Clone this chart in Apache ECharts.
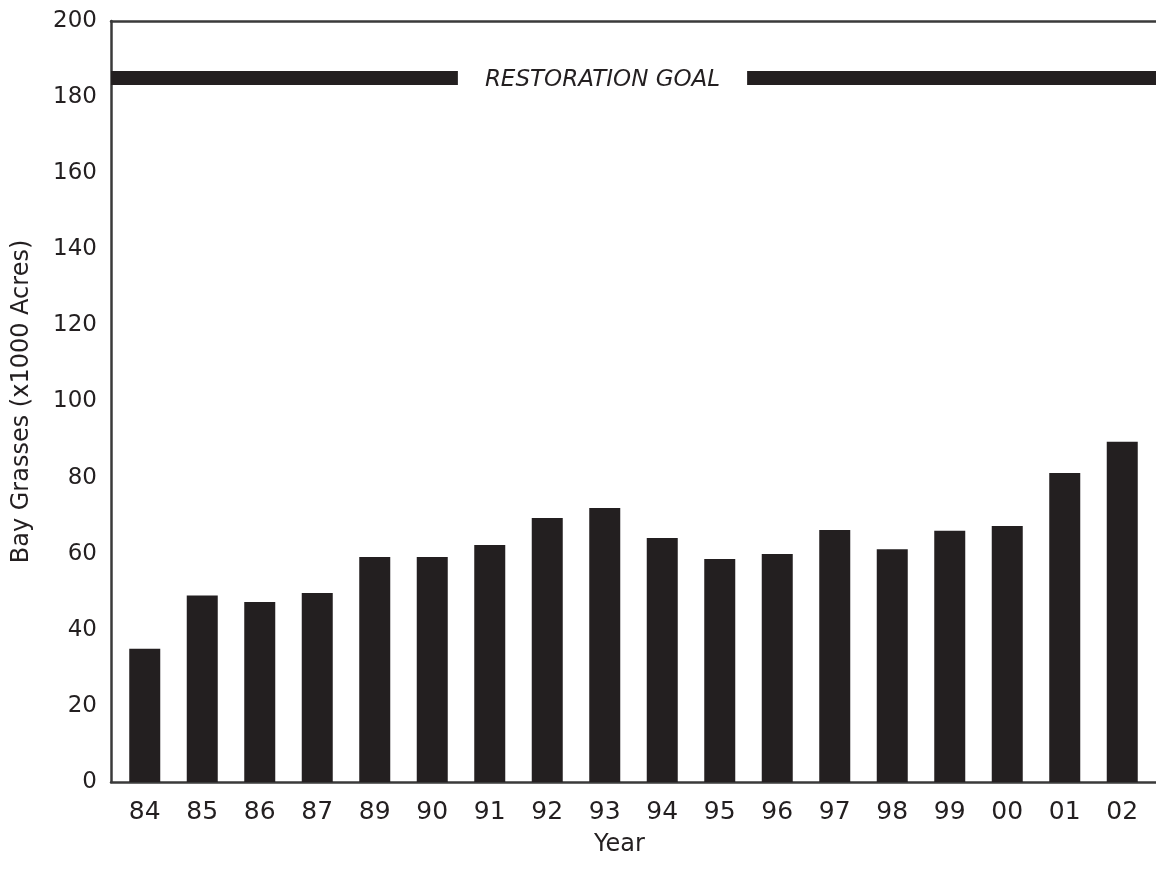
<!DOCTYPE html>
<html>
<head>
<meta charset="utf-8">
<script src="https://cdn.jsdelivr.net/npm/echarts@6/dist/echarts.min.js"></script>
<style>
html,body{margin:0;padding:0;background:#fff;}
#chart{width:1156px;height:874px;}
</style>
</head>
<body>
<div id="chart"></div>
<script>
const years = ['84','85','86','87','89','90','91','92','93','94','95','96','97','98','99','00','01','02'];
const acres = [35, 49, 47.3, 49.7, 59.1, 59.1, 62.3, 69.4, 72, 64.1, 58.6, 59.9, 66.2, 61.2, 66, 67.3, 81.2, 89.4];
const goal = 185;
const goalLabel = 'RESTORATION GOAL';
const yMin = 0, yMax = 200, yStep = 20;
const yTitle = 'Bay Grasses (x1000 Acres)';
const xTitle = 'Year';

const ink = '#231f20';
const axisCol = '#3a3a3a';
const font = 'DejaVu Sans';

const chart = echarts.init(document.getElementById('chart'), null, {renderer: 'canvas'});
chart.setOption({
  animation: false,
  backgroundColor: '#fff',
  textStyle: {fontFamily: font, color: ink},
  grid: [
    {left: 111, right: 0, top: 21, bottom: 92},
    {left: 116, right: 5, top: 21, bottom: 92}
  ],
  xAxis: [
    {gridIndex: 0, type: 'value', min: 0, max: 1, position: 'bottom',
     axisLine: {show: true, lineStyle: {color: axisCol, width: 2.5}},
     axisTick: {show: false}, axisLabel: {show: false}, splitLine: {show: false}},
    {gridIndex: 0, type: 'value', min: 0, max: 1, position: 'top',
     axisLine: {show: true, lineStyle: {color: axisCol, width: 2.5}},
     axisTick: {show: false}, axisLabel: {show: false}, splitLine: {show: false}},
    {gridIndex: 1, type: 'category', data: years,
     axisLine: {show: false}, axisTick: {show: false},
     axisLabel: {fontFamily: font, fontSize: 25, color: ink, margin: 18}}
  ],
  yAxis: [
    {gridIndex: 0, type: 'value', min: yMin, max: yMax, interval: yStep,
     axisLine: {show: true, lineStyle: {color: axisCol, width: 2.5}},
     axisTick: {show: false}, splitLine: {show: false},
     axisLabel: {fontFamily: font, fontSize: 23, color: ink, margin: 14},
     name: yTitle, nameLocation: 'middle', nameGap: 77,
     nameTextStyle: {fontFamily: font, fontSize: 24, color: ink}},
    {gridIndex: 1, type: 'value', min: yMin, max: yMax, interval: yStep, show: false}
  ],
  graphic: [
    {type: 'text', left: 620 - 26, top: 833, style: {text: xTitle, font: '24px "DejaVu Sans"', fill: ink}}
  ],
  series: [
    {type: 'line', xAxisIndex: 0, yAxisIndex: 0, data: [], silent: true,
     markLine: {
       silent: true, symbol: ['none', 'none'],
       lineStyle: {color: ink, width: 14, type: 'solid'},
       label: {show: true, position: 'middle', formatter: goalLabel, fontFamily: font,
               fontStyle: 'italic', fontSize: 23, color: ink, backgroundColor: '#fff',
               padding: [8, 27], offset: [-31, 26]},
       data: [{yAxis: goal}]
     }},
    {type: 'bar', xAxisIndex: 2, yAxisIndex: 1, data: acres, barWidth: 31,
     itemStyle: {color: ink}}
  ]
});
</script>
</body>
</html>
